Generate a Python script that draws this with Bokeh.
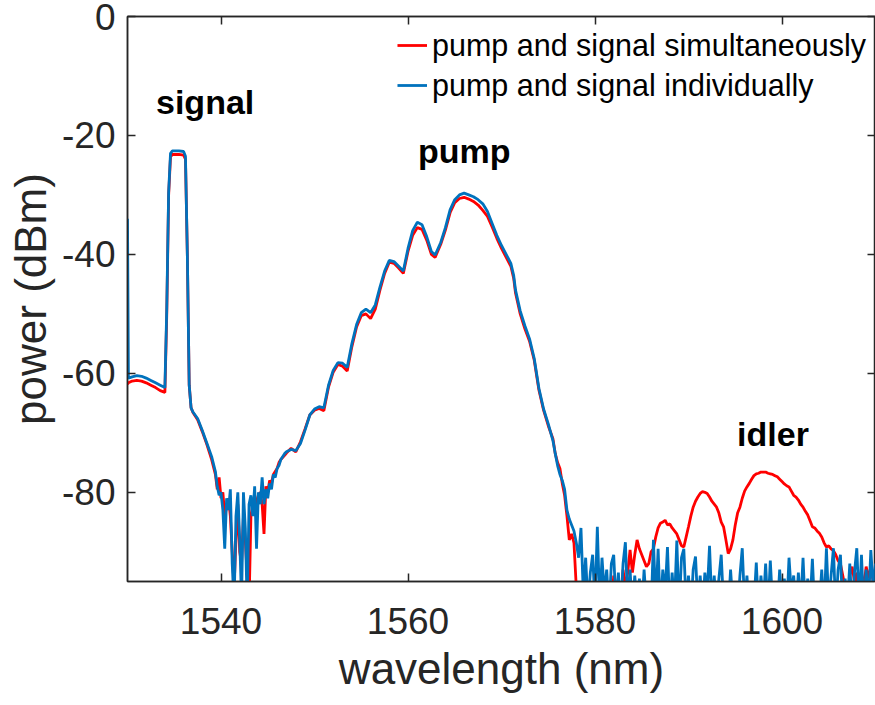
from bokeh.plotting import figure
from bokeh.models import (Range1d, FixedTicker, LinearAxis, Label, Legend,
                          LegendItem, ColumnDataSource)
from bokeh.embed import file_html
from bokeh.resources import INLINE

# ---------------- data ----------------
x_ticks = [1540, 1560, 1580, 1600]
y_ticks = [-80, -60, -40, -20, 0]
y_tick_labels = ["-80", "-60", "-40", "-20", "0"]

# segment 1: baseline + signal peak
wl_1 = [1530.0, 1530.1, 1530.5, 1531.0, 1531.5, 1532.0, 1532.5, 1533.0, 1533.5,
        1534.0, 1534.2, 1534.4, 1534.6, 1534.8, 1535.5, 1536.0, 1536.2, 1536.4,
        1536.6, 1536.8, 1537.0, 1537.5, 1538.0, 1538.5, 1539.0, 1539.4]
red_1 = [-61.8, -61.6, -61.3, -61.2, -61.3, -61.6, -62.0, -62.4, -62.9,
         -63.2, -50.0, -30.0, -23.6, -23.2, -23.2, -23.3, -24.0, -40.0,
         -62.0, -65.8, -66.6, -67.8, -69.8, -72.0, -74.5, -77.0]
blue_1 = [-34.0, -60.8, -60.6, -60.4, -60.5, -60.8, -61.2, -61.6, -62.0,
          -62.4, -49.0, -29.5, -23.0, -22.6, -22.6, -22.7, -23.5, -40.0,
          -62.0, -65.8, -66.5, -67.6, -69.6, -71.8, -74.0, -76.5]

# segment 2: noisy floor between signal and pump
wl_2 = [1539.6, 1539.8, 1540.0, 1540.2, 1540.4, 1540.6, 1540.8, 1541.0, 1541.2,
        1541.4, 1541.6, 1541.8, 1542.0, 1542.2, 1542.4, 1542.6, 1542.8, 1543.0,
        1543.2, 1543.4, 1543.6, 1543.8, 1544.0, 1544.2, 1544.4, 1544.6, 1544.8,
        1545.0, 1545.2, 1545.4, 1545.6, 1545.8, 1546.0, 1546.2, 1546.4]
red_2 = [-79.5, -77.5, -81.0, -80.0, -84.0, -82.5, -81.0, -84.0, -90.0,
         -96.0, -88.0, -82.0, -90.0, -92.0, -84.0, -88.0, -94.0, -99.0,
         -84.0, -82.0, -83.0, -81.5, -80.5, -80.0, -82.0, -87.0, -79.0,
         -80.0, -78.0, -78.5, -77.0, -76.5, -76.0, -75.0, -74.5]
blue_2 = [-79.0, -80.5, -80.0, -83.0, -89.5, -81.0, -83.0, -79.5, -92.0,
          -99.0, -84.0, -80.0, -88.0, -98.0, -80.0, -86.0, -99.0, -82.0,
          -80.5, -84.0, -79.0, -89.5, -80.0, -82.0, -77.5, -82.0, -79.5,
          -81.0, -78.5, -79.5, -77.0, -77.5, -76.0, -75.5, -74.5]

# segment 3: pump
wl_3 = [1546.8, 1547.0, 1547.5, 1548.0, 1548.5, 1549.0, 1549.5, 1550.0, 1550.5,
        1551.0, 1551.5, 1552.0, 1552.5, 1553.0, 1553.5, 1554.0, 1554.5, 1555.0,
        1555.5, 1556.0, 1556.5, 1557.0, 1557.5, 1558.0, 1558.5, 1559.0, 1559.5,
        1560.0, 1560.5, 1561.0, 1561.5, 1562.0, 1562.5, 1562.9, 1563.5, 1564.0,
        1564.5, 1565.0, 1565.5, 1566.0, 1566.5, 1567.0, 1567.5, 1568.0, 1568.5,
        1569.0, 1569.5, 1570.0, 1570.5, 1571.0, 1571.3, 1571.5, 1572.0, 1572.5,
        1573.0, 1573.5, 1574.0, 1574.5, 1575.0, 1575.5]
red_3 = [-73.8, -73.4, -72.6, -73.2, -71.5, -69.3, -67.0, -66.2, -65.9,
         -66.3, -62.3, -59.8, -58.5, -58.8, -59.6, -55.5, -52.2, -50.3,
         -50.0, -50.8, -49.2, -46.0, -43.2, -41.3, -41.5, -42.3, -43.2,
         -39.5, -36.8, -35.5, -35.8, -37.6, -40.0, -40.5, -38.3, -35.9,
         -33.0, -31.3, -30.6, -30.4, -30.7, -31.1, -31.7, -32.6, -33.6,
         -35.4, -37.3, -39.0, -40.5, -42.0, -44.0, -46.5, -50.0, -52.5,
         -54.6, -57.8, -62.8, -66.2, -68.8, -71.0]
blue_3 = [-73.5, -73.2, -72.8, -73.0, -71.8, -69.5, -67.0, -66.0, -65.6,
          -65.8, -62.0, -59.5, -58.2, -58.3, -59.0, -55.0, -51.8, -49.8,
          -49.2, -49.8, -48.5, -45.5, -42.8, -41.0, -41.2, -42.0, -42.8,
          -39.0, -36.0, -34.6, -35.0, -37.0, -39.5, -40.1, -38.0, -35.5,
          -32.5, -30.8, -30.0, -29.7, -30.0, -30.3, -30.8, -31.5, -32.8,
          -34.8, -36.8, -38.5, -40.0, -41.5, -43.5, -46.0, -49.5, -52.0,
          -54.2, -57.5, -62.5, -66.0, -68.5, -71.3]

# segment 4: pump tail, idler and noise floor
wl_4 = [1575.75, 1576.0, 1576.25, 1576.5, 1576.75, 1577.0, 1577.25, 1577.5,
        1577.75, 1578.0, 1578.25, 1578.5, 1578.75, 1579.0, 1579.25, 1579.5,
        1579.75, 1580.0, 1580.25, 1580.5, 1580.75, 1581.0, 1581.25, 1581.5,
        1581.75, 1582.0, 1582.25, 1582.5, 1582.75, 1583.0, 1583.25, 1583.5,
        1583.75, 1584.0, 1584.25, 1584.5, 1584.75, 1585.0, 1585.25, 1585.5,
        1585.75, 1586.0, 1586.25, 1586.5, 1586.75, 1587.0, 1587.25, 1587.5,
        1587.75, 1588.0, 1588.25, 1588.5, 1588.75, 1589.0, 1589.25, 1589.5,
        1589.75, 1590.0, 1590.25, 1590.5, 1590.75, 1591.0, 1591.25, 1591.5,
        1591.75, 1592.0, 1592.25, 1592.5, 1592.75, 1593.0, 1593.25, 1593.5,
        1593.75, 1594.0, 1594.25, 1594.5, 1594.75, 1595.0, 1595.25, 1595.5,
        1595.75, 1596.0, 1596.25, 1596.5, 1596.75, 1597.0, 1597.25, 1597.5,
        1597.75, 1598.0, 1598.25, 1598.5, 1598.75, 1599.0, 1599.25, 1599.5,
        1599.75, 1600.0, 1600.25, 1600.5, 1600.75, 1601.0, 1601.25, 1601.5,
        1601.75, 1602.0, 1602.25, 1602.5, 1602.75, 1603.0, 1603.25, 1603.5,
        1603.75, 1604.0, 1604.25, 1604.5, 1604.75, 1605.0, 1605.25, 1605.5,
        1605.75, 1606.0, 1606.25, 1606.5, 1606.75, 1607.0, 1607.25, 1607.5,
        1607.75, 1608.0, 1608.25, 1608.5, 1608.75, 1609.0, 1609.25, 1609.5,
        1609.75, 1610.0]
red_4 = [-73.5, -75.0, -76.0, -78.5, -80.5, -84.0, -88.0, -87.0,
         -88.5, -96.0, -100.0, -97.0, -100.0, -96.0, -99.0, -95.0,
         -100.0, -96.0, -98.0, -94.5, -100.0, -95.0, -99.0, -95.5,
         -100.0, -94.0, -97.0, -94.5, -100.0, -93.0, -96.0, -93.5,
         -89.7, -93.5, -90.5, -88.0, -89.5, -90.5, -91.5, -92.5,
         -92.0, -90.0, -89.5, -87.5, -86.0, -85.2, -85.0, -84.7,
         -85.5, -85.3, -86.0, -86.5, -87.0, -88.0, -89.0, -89.2,
         -87.5, -85.8, -84.0, -82.5, -81.5, -80.8, -80.2, -79.9,
         -80.0, -80.2, -80.8, -81.5, -82.0, -82.5, -83.5, -85.0,
         -85.8, -88.0, -90.3, -89.5, -88.0, -85.5, -83.5, -82.5,
         -81.0, -79.8, -79.1, -78.5, -77.8, -77.2, -76.9, -76.8,
         -76.6, -76.6, -76.6, -76.8, -76.9, -77.0, -77.2, -77.4,
         -77.8, -78.2, -78.6, -78.9, -79.1, -79.8, -80.5, -80.8,
         -81.3, -82.0, -82.5, -83.2, -83.8, -84.8, -85.8, -86.0,
         -86.5, -86.9, -87.5, -88.5, -89.2, -89.0, -89.5, -89.8,
         -90.5, -91.5, -92.0, -94.0, -96.0, -99.0, -94.0, -92.5,
         -95.0, -93.5, -97.0, -93.6, -96.0, -92.5, -94.5, -92.5,
         -95.0, -93.0]
blue_4 = [-73.5, -75.5, -77.0, -78.0, -79.5, -83.0, -84.5, -85.5,
          -86.5, -88.5, -91.0, -86.0, -97.0, -91.0, -99.0, -93.5,
          -90.5, -99.0, -85.8, -99.0, -91.0, -97.0, -93.0, -100.0,
          -92.0, -90.5, -99.0, -93.5, -100.0, -92.0, -88.4, -99.0,
          -93.0, -100.0, -94.0, -99.0, -94.5, -100.0, -93.0, -99.0,
          -95.0, -100.0, -88.0, -99.0, -89.5, -100.0, -93.0, -97.0,
          -89.2, -100.0, -93.5, -99.0, -88.1, -100.0, -91.0, -89.5,
          -99.0, -94.0, -100.0, -93.0, -90.8, -99.0, -94.0, -100.0,
          -93.5, -97.0, -89.0, -99.0, -94.0, -100.0, -94.5, -90.5,
          -99.0, -95.0, -100.0, -93.0, -99.0, -95.5, -100.0, -94.0,
          -89.4, -99.0, -94.0, -100.0, -95.0, -99.0, -91.8, -100.0,
          -94.0, -99.0, -92.0, -100.0, -91.5, -99.0, -95.0, -100.0,
          -93.0, -99.0, -94.5, -100.0, -91.0, -97.0, -94.0, -100.0,
          -93.5, -99.0, -91.0, -100.0, -94.5, -99.0, -91.2, -100.0,
          -95.0, -99.0, -93.0, -100.0, -89.4, -99.0, -94.0, -89.4,
          -100.0, -93.0, -90.5, -100.0, -94.5, -99.0, -92.0, -100.0,
          -93.5, -89.4, -99.0, -90.5, -100.0, -93.0, -99.0, -89.7,
          -96.0, -92.0]

wavelength = wl_1 + wl_2 + wl_3 + wl_4
power_simultaneous = red_1 + red_2 + red_3 + red_4
power_individual = blue_1 + blue_2 + blue_3 + blue_4

series_labels = ["pump and signal simultaneously", "pump and signal individually"]
annotations = [("signal", 1533.05, -14.4), ("pump", 1561.07, -22.6), ("idler", 1595.2, -70.2)]

# ---------------- figure ----------------
FONT = "Liberation Sans"
AX = "#262626"

p = figure(width=875, height=705, output_backend="svg", toolbar_location=None,
           x_range=Range1d(1530, 1610), y_range=Range1d(-95, 0),
           min_border_left=127, min_border_right=0, min_border_top=16,
           min_border_bottom=124)
p.background_fill_color = "white"
p.border_fill_color = "white"
p.grid.visible = False
p.outline_line_color = AX
p.outline_line_width = 1.5

src = ColumnDataSource(dict(x=wavelength, r=power_simultaneous, b=power_individual))
r_red = p.line("x", "r", source=src, line_color="#FF0000", line_width=2.8)
r_blue = p.line("x", "b", source=src, line_color="#0072BD", line_width=2.8)


def style_axis(ax, ticks, show_labels=True):
    ax.ticker = FixedTicker(ticks=ticks)
    ax.axis_line_color = AX
    ax.axis_line_width = 1.5
    ax.major_tick_line_color = AX
    ax.major_tick_line_width = 1.5
    ax.major_tick_in = 8
    ax.major_tick_out = 0
    ax.minor_tick_line_color = None
    ax.major_label_text_font = FONT
    ax.major_label_text_color = AX
    ax.major_label_text_font_size = "37px"
    if not show_labels:
        ax.major_label_text_color = None
        ax.major_label_text_font_size = "1px"
        ax.major_label_standoff = 0


style_axis(p.xaxis[0], x_ticks)
style_axis(p.yaxis[0], y_ticks)
p.yaxis[0].major_label_overrides = {t: s for t, s in zip(y_ticks, y_tick_labels)}
p.xaxis[0].major_label_standoff = 26
p.yaxis[0].major_label_standoff = 12
p.xaxis[0].axis_label = "wavelength (nm)"
p.yaxis[0].axis_label = "power (dBm)"
for ax in (p.xaxis[0], p.yaxis[0]):
    ax.axis_label_text_font = FONT
    ax.axis_label_text_font_size = "44px"
    ax.axis_label_text_font_style = "normal"
    ax.axis_label_text_color = AX
p.xaxis[0].axis_label_standoff = 7
p.yaxis[0].axis_label_standoff = 4

top_ax = LinearAxis()
style_axis(top_ax, x_ticks, show_labels=False)
p.add_layout(top_ax, "above")
right_ax = LinearAxis()
style_axis(right_ax, y_ticks, show_labels=False)
p.add_layout(right_ax, "right")

legend = Legend(items=[LegendItem(label=series_labels[0], renderers=[r_red]),
                       LegendItem(label=series_labels[1], renderers=[r_blue])],
                location="top_right")
legend.border_line_color = None
legend.background_fill_alpha = 0
legend.label_text_font = FONT
legend.label_text_font_size = "30.5px"
legend.label_text_color = "black"
legend.glyph_width = 30
legend.glyph_height = 40
legend.label_height = 40
legend.label_standoff = 5
legend.spacing = 0
legend.padding = 9
legend.margin = 9
p.add_layout(legend)

for txt, xx, yy in annotations:
    p.add_layout(Label(x=xx, y=yy, text=txt, text_font=FONT, text_font_style="bold",
                       text_font_size="34px", text_color="black",
                       text_baseline="alphabetic", text_align="left"))

open("out.html", "w").write(file_html(p, INLINE))
